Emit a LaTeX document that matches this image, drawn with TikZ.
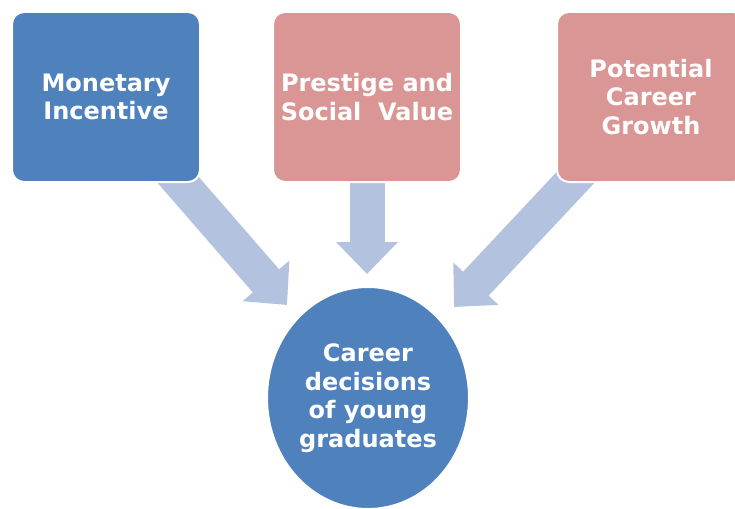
\documentclass[tikz,border=0pt]{standalone}
\usepackage{fontspec}
\setmainfont{DejaVu Sans}
\usetikzlibrary{shapes.geometric,arrows.meta,backgrounds}

\definecolor{factorblue}{HTML}{4F81BD}
\definecolor{factorpink}{HTML}{D99694}
\definecolor{flowblue}{HTML}{B3C2DE}

\begin{document}
\begin{tikzpicture}
  [
  x=1pt, y=-1pt,
  font=\fontsize{24}{28.5}\selectfont\bfseries,
  factor/.style={rectangle, rounded corners=12pt, minimum width=188pt, minimum height=170pt,
    draw=white, line width=2pt, text=white, align=center, inner sep=0pt},
  outcome/.style={ellipse, minimum width=202pt, minimum height=222pt, inner sep=0pt,
    draw=white, line width=2pt, fill=factorblue, text=white, align=center},
  flow/.style={draw=flowblue, line width=35pt, -{Triangle[length=32pt, width=60pt]}}
  ]

\useasboundingbox (0,0) rectangle (735,508);

\node[factor, fill=factorblue] (money) at (106,97) {Monetary\\Incentive};
\node[factor, fill=factorpink] (prestige) at (367,97) {Prestige and\\Social\ \ Value};
\node[factor, fill=factorpink] (growth) at (651,97) {Potential\\Career\\Growth};

\node[outcome] (decision) at (368,398) {Career\\decisions\\of young\\graduates};

\coordinate (tipL) at (287,305);
\coordinate (tipM) at (367,274);
\coordinate (tipR) at (454,307);

\begin{scope}[on background layer]
\draw[flow] (money.center) -- (tipL);
\draw[flow] (prestige.center) -- (tipM);
\draw[flow] (growth.center) -- (tipR);
\end{scope}
\end{tikzpicture}
\end{document}
